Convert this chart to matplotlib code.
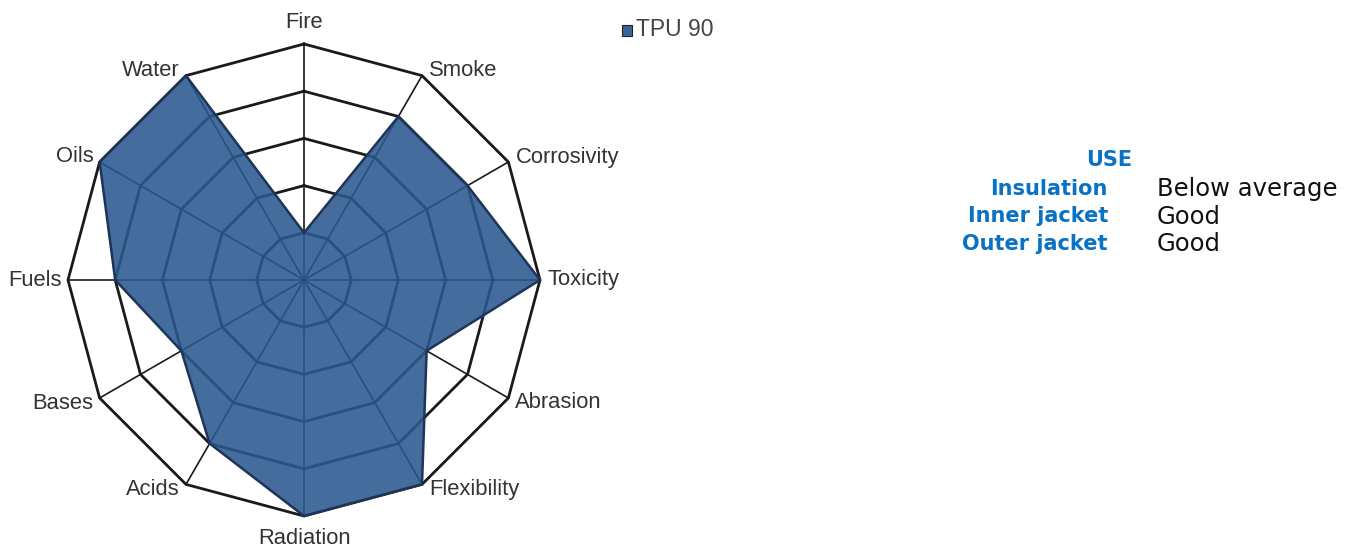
import numpy as np
import matplotlib.pyplot as plt
from matplotlib.patches import Polygon, Rectangle

# axes of the radar, clockwise from the top
categories = ["Fire", "Smoke", "Corrosivity", "Toxicity", "Abrasion", "Flexibility",
              "Radiation", "Acids", "Bases", "Fuels", "Oils", "Water"]
tpu90 = [1, 4, 4, 5, 3, 5, 5, 4, 3, 4, 5, 5]
levels = [1, 2, 3, 4, 5]
series_name = "TPU 90"

use_labels = ["Insulation", "Inner jacket", "Outer jacket"]
use_values = ["Below average", "Good", "Good"]

W, H = 1356, 548
fig = plt.figure(figsize=(W / 100, H / 100), dpi=100)

# radar axes: centre at (304, 280) px, outer ring radius 236 px = 5 units
cx, cy, R = 304, 280, 236
half = 5.51
size = half * 2 * R / 5
ax = fig.add_axes([(cx - size / 2) / W, (H - cy - size / 2) / H, size / W, size / H])
ax.set_xlim(-half, half)
ax.set_ylim(-half, half)
ax.set_aspect("equal")
ax.axis("off")

n = len(categories)
ang = np.pi / 2 - np.arange(n) * 2 * np.pi / n
ux, uy = np.cos(ang), np.sin(ang)

grid_col = "#1a1a1a"
# spokes
for i in range(n):
    ax.plot([0, levels[-1] * ux[i]], [0, levels[-1] * uy[i]], color=grid_col, lw=1.2, zorder=1)
# rings
for lv in levels:
    xs = np.append(lv * ux, lv * ux[0])
    ys = np.append(lv * uy, lv * uy[0])
    ax.plot(xs, ys, color=grid_col, lw=2.0, zorder=1)

vals = np.array(tpu90, dtype=float)
poly = Polygon(np.column_stack([vals * ux, vals * uy]), closed=True,
               facecolor="#2a5890", edgecolor="none", alpha=0.88, zorder=2)
ax.add_patch(poly)
edge = Polygon(np.column_stack([vals * ux, vals * uy]), closed=True,
               facecolor="none", edgecolor="#1f3558", lw=1.8, zorder=3)
ax.add_patch(edge)

# category labels
px = 5 / R  # one pixel in data units
lab_font = dict(fontsize=15.8, color="#333333", family="Liberation Sans")
for i, name in enumerate(categories):
    x, y = levels[-1] * ux[i], levels[-1] * uy[i]
    if abs(ux[i]) < 1e-6:
        dy = 22 * px if uy[i] > 0 else -22 * px
        ax.text(x, y + dy, name, ha="center", va="center", **lab_font)
        continue
    ha = "left" if ux[i] > 0 else "right"
    dx = 7 * px if ux[i] > 0 else -6 * px
    dy = 0 if abs(uy[i]) < 1e-6 else np.sign(uy[i]) * 5 * px
    ax.text(x + dx, y + dy, name, ha=ha, va="center", **lab_font)

# legend
fig.patches.append(Rectangle((622 / W, 1 - 36 / H), 10 / W, 11 / H,
                             transform=fig.transFigure, facecolor="#3a659b",
                             edgecolor="#222222", lw=0.8))
fig.text(636 / W, 1 - 30 / H, series_name, ha="left", va="center",
         fontsize=16.5, color="#444444", family="Liberation Sans")

# USE table
blue = "#0a72c4"
fig.text(1132 / W, 1 - 160 / H, "USE", ha="right", va="center", fontsize=15,
         fontweight="bold", color=blue, family="DejaVu Sans")
for k, (lab, val) in enumerate(zip(use_labels, use_values)):
    y = 1 - (189 + 27.5 * k) / H
    fig.text(1108 / W, y, lab, ha="right", va="center", fontsize=15,
             fontweight="bold", color=blue, family="DejaVu Sans")
    fig.text(1157 / W, y, val, ha="left", va="center", fontsize=17.5,
             color="#111111", family="DejaVu Sans")

fig.savefig("out.png", dpi=100)
